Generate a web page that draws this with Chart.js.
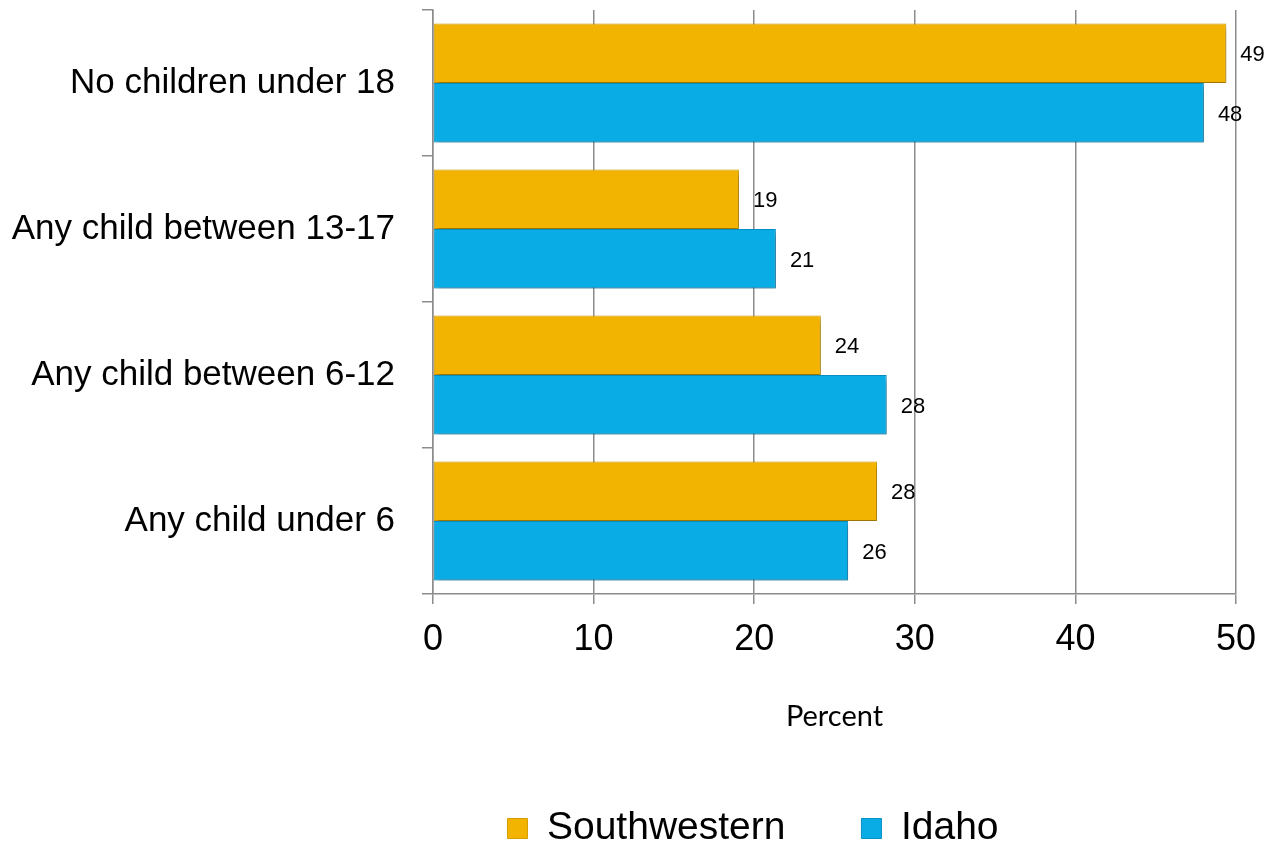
<!DOCTYPE html>
<html>
<head>
<meta charset="utf-8">
<script src="https://cdn.jsdelivr.net/npm/chart.js@4/dist/chart.umd.min.js"></script>
<style>
  html, body { margin: 0; padding: 0; background: #fff; }
  #wrap { width: 1271px; height: 844px; }
</style>
</head>
<body>
<div id="wrap"><canvas id="chart"></canvas></div>
<script>
// data
const categories = ['No children under 18', 'Any child between 13-17', 'Any child between 6-12', 'Any child under 6'];
const southwestern = [49.4, 19.05, 24.15, 27.65];
const idaho = [48.0, 21.35, 28.25, 25.85];
const xTicks = [0, 10, 20, 30, 40, 50];

const GRID = '#8c8c8c';
const FONT = '"Liberation Sans", Arial, sans-serif';

// value labels to the right of each bar
const barLabels = {
  id: 'barLabels',
  afterDatasetsDraw(chart) {
    const ctx = chart.ctx;
    ctx.save();
    ctx.font = '22px ' + FONT;
    ctx.fillStyle = '#000';
    ctx.textAlign = 'left';
    ctx.textBaseline = 'middle';
    chart.data.datasets.forEach((ds, i) => {
      chart.getDatasetMeta(i).data.forEach((bar, j) => {
        ctx.fillText(String(Math.round(ds.data[j])), bar.x + 14, bar.y + 2);
      });
    });
    ctx.restore();
  }
};

// soft drop shadow under the bars
const barShadow = {
  id: 'barShadow',
  beforeDatasetsDraw(chart) {
    const ctx = chart.ctx;
    ctx.save();
    ctx.shadowColor = 'rgba(0,0,0,0.35)';
    ctx.shadowBlur = 5;
    ctx.shadowOffsetX = 2;
    ctx.shadowOffsetY = 3;
  },
  afterDatasetsDraw(chart) {
    chart.ctx.restore();
  }
};

// the legend in the reference sits right of centre; also give it room so it isn't clipped
const legendShift = {
  id: 'legendShift',
  afterLayout(chart) {
    const lg = chart.legend;
    if (!lg) return;
    lg.left += 135; lg.right += 135;
    lg.top -= 9; lg.bottom += 30;
    lg.height = lg.bottom - lg.top;
  }
};

new Chart(document.getElementById('chart'), {
  type: 'bar',
  data: {
    labels: categories,
    datasets: [
      { label: 'Southwestern', data: southwestern, backgroundColor: '#F2B400', borderColor: '#D49E00', borderWidth: 1, borderSkipped: false },
      { label: 'Idaho', data: idaho, backgroundColor: '#0AACE6', borderColor: '#0990C4', borderWidth: 1, borderSkipped: false },
    ],
  },
  options: {
    indexAxis: 'y',
    responsive: true, maintainAspectRatio: false,
    animation: false,
    layout: { padding: { top: 10, right: 35, left: 0, bottom: 6 } },
    datasets: { bar: { categoryPercentage: 0.815, barPercentage: 1 } },
    plugins: {
      tooltip: { enabled: false },
      legend: {
        position: 'bottom',
        maxHeight: 96,
        labels: {
          color: '#000',
          font: { family: FONT, size: 39 },
          boxWidth: 20, boxHeight: 20, padding: 76,
        },
      },
    },
    scales: {
      x: {
        min: 0, max: 50,
        afterBuildTicks(scale) { scale.ticks = xTicks.map(v => ({ value: v })); },
        afterFit(scale) { scale.height = 148; },
        grid: { color: GRID, lineWidth: 1.5, tickLength: 10 },
        border: { color: GRID, width: 1.5 },
        ticks: { color: '#000', padding: 14, font: { family: FONT, size: 36 } },
        title: { display: true, text: 'Percent', color: '#000', padding: { top: 20, bottom: 8 }, font: { family: 'Lato, "Open Sans", sans-serif', size: 29 } },
      },
      y: {
        afterFit(scale) {
          scale.width = 433;
          scale.paddingTop = 0; scale.paddingBottom = 0;
        },
        grid: { color: GRID, lineWidth: 1.5, drawOnChartArea: false, tickLength: 11, offset: true },
        border: { color: GRID, width: 1.5 },
        ticks: { color: '#000', padding: 27, font: { family: FONT, size: 35 } },
      },
    },
  },
  plugins: [barShadow, barLabels, legendShift],
});
</script>
</body>
</html>
